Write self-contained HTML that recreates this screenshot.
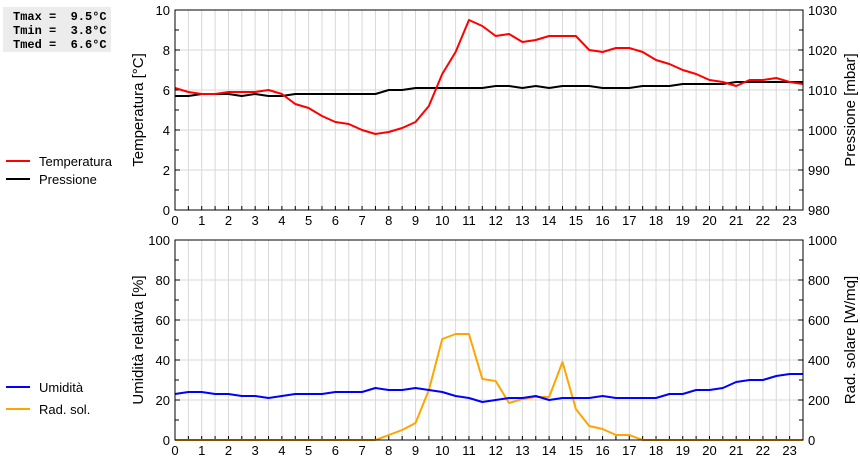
<!DOCTYPE html>
<html><head><meta charset="utf-8"><style>
body{margin:0;background:#fff;width:860px;height:460px;overflow:hidden}
svg{display:block;font-family:"Liberation Sans",sans-serif}
</style></head><body>
<svg id="c" width="860" height="460">
<rect x="3" y="7" width="108" height="45" fill="#ececec"/>
<g font-family="'Liberation Mono',monospace" font-weight="bold" font-size="12" fill="#000">
<text x="13" y="20" xml:space="preserve">Tmax =  9.5°C</text>
<text x="13" y="34" xml:space="preserve">Tmin =  3.8°C</text>
<text x="13" y="48" xml:space="preserve">Tmed =  6.6°C</text>
</g>
<g id="g"></g>
</svg>
<script>
const hours=[0,0.5,1,1.5,2,2.5,3,3.5,4,4.5,5,5.5,6,6.5,7,7.5,8,8.5,9,9.5,10,10.5,11,11.5,12,12.5,13,13.5,14,14.5,15,15.5,16,16.5,17,17.5,18,18.5,19,19.5,20,20.5,21,21.5,22,22.5,23,23.5];
const temperature=[6.1,5.9,5.8,5.8,5.9,5.9,5.9,6.0,5.8,5.3,5.1,4.7,4.4,4.3,4.0,3.8,3.9,4.1,4.4,5.2,6.8,7.9,9.5,9.2,8.7,8.8,8.4,8.5,8.7,8.7,8.7,8.0,7.9,8.1,8.1,7.9,7.5,7.3,7.0,6.8,6.5,6.4,6.2,6.5,6.5,6.6,6.4,6.3];
const pressure=[1008.5,1008.5,1009,1009,1009,1008.5,1009,1008.5,1008.5,1009,1009,1009,1009,1009,1009,1009,1010,1010,1010.5,1010.5,1010.5,1010.5,1010.5,1010.5,1011,1011,1010.5,1011,1010.5,1011,1011,1011,1010.5,1010.5,1010.5,1011,1011,1011,1011.5,1011.5,1011.5,1011.5,1012,1012,1012,1012,1012,1012];
const humidity=[23,24,24,23,23,22,22,21,22,23,23,23,24,24,24,26,25,25,26,25,24,22,21,19,20,21,21,22,20,21,21,21,22,21,21,21,21,23,23,25,25,26,29,30,30,32,33,33];
const radiation=[0,0,0,0,0,0,0,0,0,0,0,0,0,0,0,0,25,50,85,250,505,530,530,305,295,185,205,215,215,390,155,70,55,25,25,0,0,0,0,0,0,0,0,0,0,0,0,0];
const xTicks=[0,1,2,3,4,5,6,7,8,9,10,11,12,13,14,15,16,17,18,19,20,21,22,23];
const tempTicks=[0,2,4,6,8,10], presTicks=[980,990,1000,1010,1020,1030];
const humTicks=[0,20,40,60,80,100], radTicks=[0,200,400,600,800,1000];

const NS="http://www.w3.org/2000/svg", G=document.getElementById('g');
const X0=175,X1=803;
const x=h=>X0+h*(X1-X0)/23.5;
function el(t,a,p){const e=document.createElementNS(NS,t);for(const k in a)e.setAttribute(k,a[k]);(p||G).appendChild(e);return e;}
function panel(name,top,bot,lMin,lMax,rMin,rMax,lTicks,rTicks,lTitle,rTitle,series){
  const g=el('g',{});
  
  
  const yl=v=>bot-(v-lMin)/(lMax-lMin)*(bot-top);
  const yr=v=>bot-(v-rMin)/(rMax-rMin)*(bot-top);
  for(let h=0.5;h<23.5;h+=0.5){const l=el('line',{x1:x(h),x2:x(h),y1:top,y2:bot,stroke:'#d8d8d8','stroke-width':1},g);}
  lTicks.forEach((t,i)=>{const y=yl(t);
    if(i>0&&i<lTicks.length-1){const l=el('line',{x1:X0,x2:X1,y1:y,y2:y,stroke:'#d8d8d8'},g);}
    const tx=el('text',{x:X0-5,y:y+5,'text-anchor':'end','font-size':13},g);tx.textContent=t;
    
    el('line',{x1:X0,x2:X0+5,y1:y,y2:y,stroke:'#000'},g);
    if(i<lTicks.length-1){const ym=yl((t+lTicks[i+1])/2);el('line',{x1:X0,x2:X0+4,y1:ym,y2:ym,stroke:'#000'},g);el('line',{x1:X1-4,x2:X1,y1:ym,y2:ym,stroke:'#000'},g);}
  });
  rTicks.forEach(t=>{const y=yr(t);el('line',{x1:X1-5,x2:X1,y1:y,y2:y,stroke:'#000'},g);
    const tx=el('text',{x:X1+5,y:y+5,'font-size':13},g);tx.textContent=t;
    });
  xTicks.forEach(t=>{const tx=el('text',{x:x(t),y:bot+15,'text-anchor':'middle','font-size':13},g);tx.textContent=t;
    });
  for(let h=0;h<=23.5;h+=0.5)el('line',{x1:x(h),x2:x(h),y1:bot-4,y2:bot,stroke:'#000'},g);
  const lt=el('text',{transform:`translate(${X0-32},${(top+bot)/2}) rotate(-90)`,'text-anchor':'middle','font-size':15},g);lt.textContent=lTitle;
  
  const rt=el('text',{transform:`translate(${X1+52},${(top+bot)/2}) rotate(-90)`,'text-anchor':'middle','font-size':15},g);rt.textContent=rTitle;
  
  series.forEach(s=>{const f=s.right?yr:yl;
    const p=el('polyline',{points:s.data.map((v,i)=>x(hours[i])+','+f(v)).join(' '),fill:'none',stroke:s.color,'stroke-width':2,'stroke-linejoin':'round'},g);
    });
  el('rect',{x:X0,y:top,width:X1-X0,height:bot-top,fill:'none',stroke:'#000','stroke-width':1},g);
  series.forEach((s,i)=>{const ly=s.ly;
    const l=el('line',{x1:6,x2:30,y1:ly,y2:ly,stroke:s.color,'stroke-width':2},g);
    
    const t=el('text',{x:39,y:ly+5,'font-size':13},g);t.textContent=s.label;
    });
}
panel('top-panel',10,210,0,10,980,1030,tempTicks,presTicks,'Temperatura [°C]','Pressione [mbar]',[
 {name:'pressure',data:pressure,color:'#000',right:true,label:'Pressione',ly:179},
 {name:'temperature',data:temperature,color:'#f00',right:false,label:'Temperatura',ly:161}]);
panel('bottom-panel',240,440,0,100,0,1000,humTicks,radTicks,'Umidità relativa [%]','Rad. solare [W/mq]',[
 {name:'radiation',data:radiation,color:'#ffa500',right:true,label:'Rad. sol.',ly:409},
 {name:'humidity',data:humidity,color:'#00f',right:false,label:'Umidità',ly:387}]);
</script>
</body></html>
